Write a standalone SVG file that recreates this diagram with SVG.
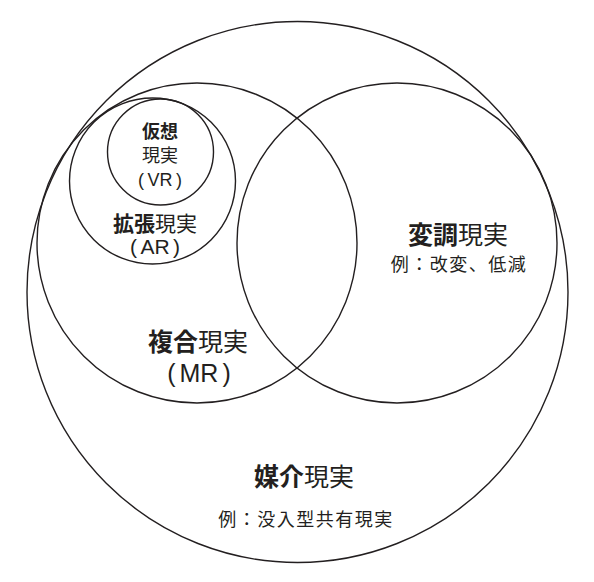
<svg xmlns="http://www.w3.org/2000/svg" width="594" height="582" viewBox="0 0 594 582">
<style>
.c{fill:none;stroke:#231f20;stroke-width:1.4}
text{font-family:"Noto Sans CJK JP","Noto Sans",sans-serif;fill:#231f20}
.b{font-weight:700}
.r{font-weight:400}
.s{text-anchor:start}
.e{text-anchor:end}
.m{text-anchor:middle}
.big{font-size:25px}
.mid{font-size:21px}
.sm{font-size:18px}
.ex{font-size:18px;letter-spacing:1.5px}
.lat{font-family:"Liberation Sans","Noto Sans",sans-serif}
</style>
<rect width="594" height="582" fill="#fff"/>
<g id="mediated">
<circle class="c" cx="297.5" cy="292" r="270.5"/>
<text class="big b e" x="304" y="486">媒介</text>
<text class="big r s" x="304" y="486">現実</text>
<text class="ex r m" x="306" y="526">例：没入型共有現実</text>
</g>
<g id="modulated">
<circle class="c" cx="397" cy="243" r="160"/>
<text class="big b e" x="458" y="244">変調</text>
<text class="big r s" x="458" y="244">現実</text>
<text class="ex r m" x="459" y="271">例：改変、低減</text>
</g>
<g id="mixed">
<circle class="c" cx="197" cy="243" r="160"/>
<text class="big b e" x="198" y="351">複合</text>
<text class="big r s" x="198" y="351">現実</text>
<text class="big r m lat" x="199" y="382">(<tspan dx="4">MR</tspan><tspan dx="4">)</tspan></text>
</g>
<g id="augmented">
<circle class="c" cx="152.5" cy="181" r="83"/>
<text class="mid b e" x="155" y="231">拡張</text>
<text class="mid r s" x="155" y="231">現実</text>
<text class="mid r m lat" x="155" y="254">(<tspan dx="3.5">AR</tspan><tspan dx="3.5">)</tspan></text>
</g>
<g id="virtual">
<circle class="c" cx="160.5" cy="152" r="53"/>
<text class="sm b m" x="160" y="138">仮想</text>
<text class="sm r m" x="160" y="162">現実</text>
<text class="r m lat" x="160" y="186" font-size="18">(<tspan dx="3.5">VR</tspan><tspan dx="3.5">)</tspan></text>
</g>
</svg>
